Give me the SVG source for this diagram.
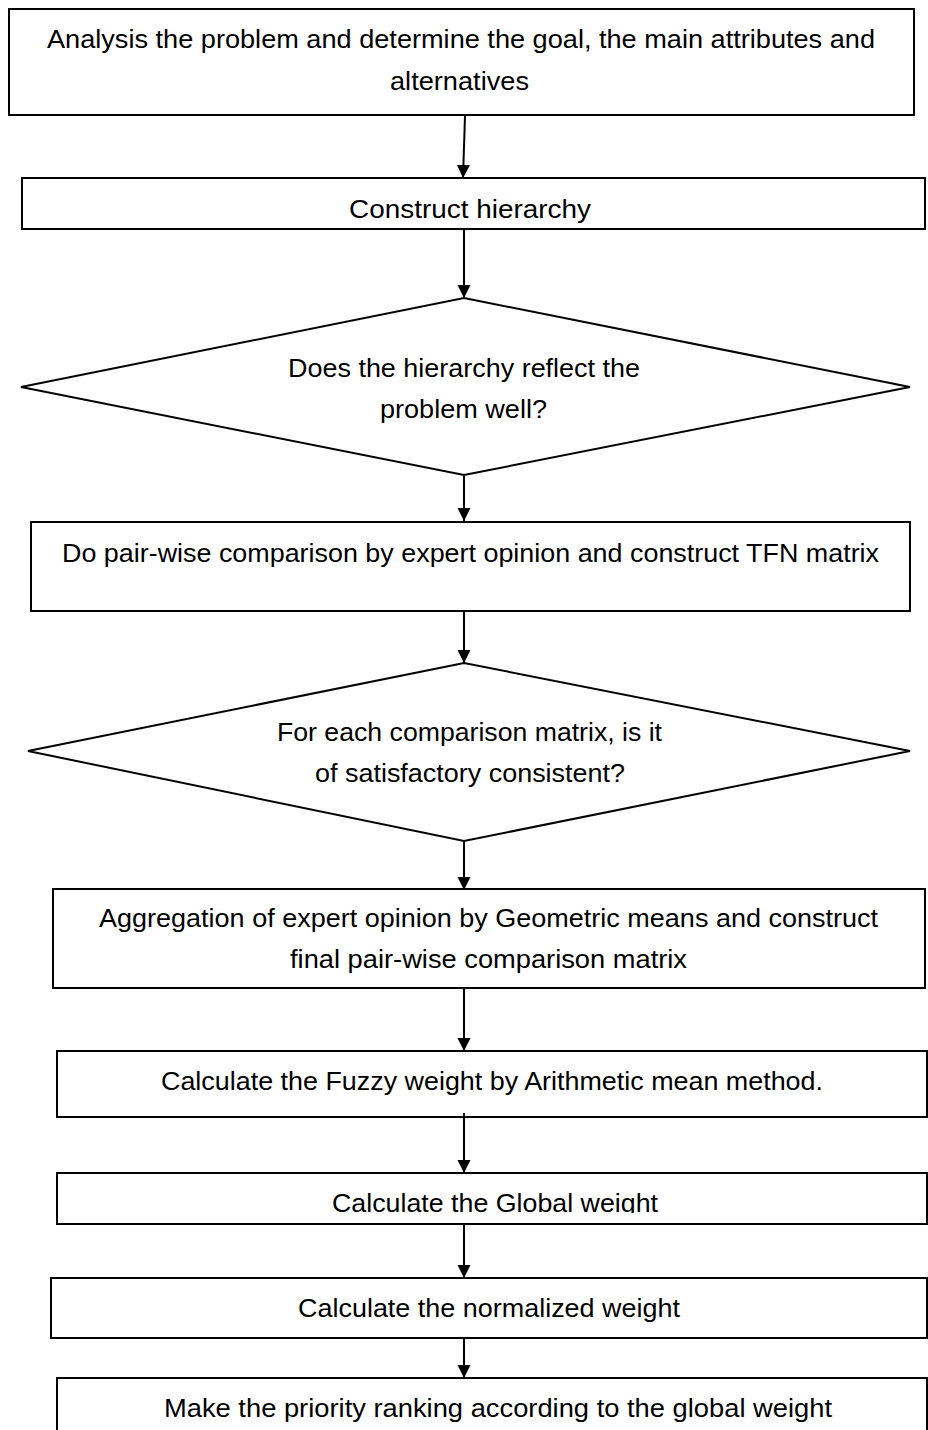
<svg xmlns="http://www.w3.org/2000/svg" width="928" height="1430" viewBox="0 0 928 1430">
<style>
.s{fill:#fff;stroke:#000;stroke-width:2}
.t{font-family:"Liberation Sans",Arial,sans-serif;font-size:26px;fill:#000}
.c{stroke:#000;stroke-width:2;fill:none}
</style>
<defs>
<marker id="ah" markerUnits="userSpaceOnUse" markerWidth="14" markerHeight="14" refX="13" refY="6.5" orient="auto">
<path d="M0,0 L13,6.5 L0,13 z" fill="#000"/>
</marker>
<clipPath id="clip6"><rect x="0" y="1160" width="928" height="53"/></clipPath>
</defs>
<rect width="928" height="1430" fill="#fff"/>
<g id="n1">
<rect class="s" x="9" y="9" width="905" height="106"/>
<text class="t" x="47" y="48" textLength="828" lengthAdjust="spacingAndGlyphs">Analysis the problem and determine the goal, the main attributes and</text>
<text class="t" x="390" y="90" textLength="139" lengthAdjust="spacingAndGlyphs">alternatives</text>
</g>
<g id="n2">
<rect class="s" x="22" y="178" width="903" height="51"/>
<text class="t" x="349" y="218" textLength="242" lengthAdjust="spacingAndGlyphs">Construct hierarchy</text>
</g>
<g id="n3">
<polygon class="s" points="464,298 910,387 464,475 21,387"/>
<text class="t" x="288" y="377" textLength="352" lengthAdjust="spacingAndGlyphs">Does the hierarchy reflect the</text>
<text class="t" x="380" y="418" textLength="167" lengthAdjust="spacingAndGlyphs">problem well?</text>
</g>
<g id="n4">
<rect class="s" x="31" y="522" width="879" height="89"/>
<text class="t" x="62" y="562" textLength="817" lengthAdjust="spacingAndGlyphs">Do pair-wise comparison by expert opinion and construct TFN matrix</text>
</g>
<g id="n5">
<polygon class="s" points="464,663 910,751 464,841 28,751"/>
<text class="t" x="277" y="741" textLength="385" lengthAdjust="spacingAndGlyphs">For each comparison matrix, is it</text>
<text class="t" x="315" y="782" textLength="310" lengthAdjust="spacingAndGlyphs">of satisfactory consistent?</text>
</g>
<g id="n6">
<rect class="s" x="53" y="889" width="872" height="99"/>
<text class="t" x="99" y="927" textLength="779" lengthAdjust="spacingAndGlyphs">Aggregation of expert opinion by Geometric means and construct</text>
<text class="t" x="290" y="968" textLength="397" lengthAdjust="spacingAndGlyphs">final pair-wise comparison matrix</text>
</g>
<g id="n7">
<rect class="s" x="57" y="1051" width="870" height="66"/>
<text class="t" x="161" y="1090" textLength="662" lengthAdjust="spacingAndGlyphs">Calculate the Fuzzy weight by Arithmetic mean method.</text>
</g>
<g id="n8">
<rect class="s" x="57" y="1173" width="870" height="51"/>
<text class="t" x="332" y="1212" textLength="326" lengthAdjust="spacingAndGlyphs" clip-path="url(#clip6)">Calculate the Global weight</text>
</g>
<g id="n9">
<rect class="s" x="51" y="1278" width="876" height="60"/>
<text class="t" x="298" y="1317" textLength="382" lengthAdjust="spacingAndGlyphs">Calculate the normalized weight</text>
</g>
<g id="n10">
<rect class="s" x="57" y="1378" width="870" height="70"/>
<text class="t" x="164" y="1417" textLength="668" lengthAdjust="spacingAndGlyphs">Make the priority ranking according to the global weight</text>
</g>
<g id="connectors">
<line class="c" x1="465" y1="116" x2="463" y2="178" marker-end="url(#ah)"/>
<line class="c" x1="464" y1="230" x2="464" y2="298" marker-end="url(#ah)"/>
<line class="c" x1="464" y1="476" x2="464" y2="521" marker-end="url(#ah)"/>
<line class="c" x1="464" y1="612" x2="464" y2="663" marker-end="url(#ah)"/>
<line class="c" x1="464" y1="842" x2="464" y2="890" marker-end="url(#ah)"/>
<line class="c" x1="464" y1="989" x2="464" y2="1051" marker-end="url(#ah)"/>
<line class="c" x1="464" y1="1113" x2="464" y2="1173" marker-end="url(#ah)"/>
<line class="c" x1="464" y1="1225" x2="464" y2="1278" marker-end="url(#ah)"/>
<line class="c" x1="464" y1="1338" x2="464" y2="1378" marker-end="url(#ah)"/>
</g>
</svg>
